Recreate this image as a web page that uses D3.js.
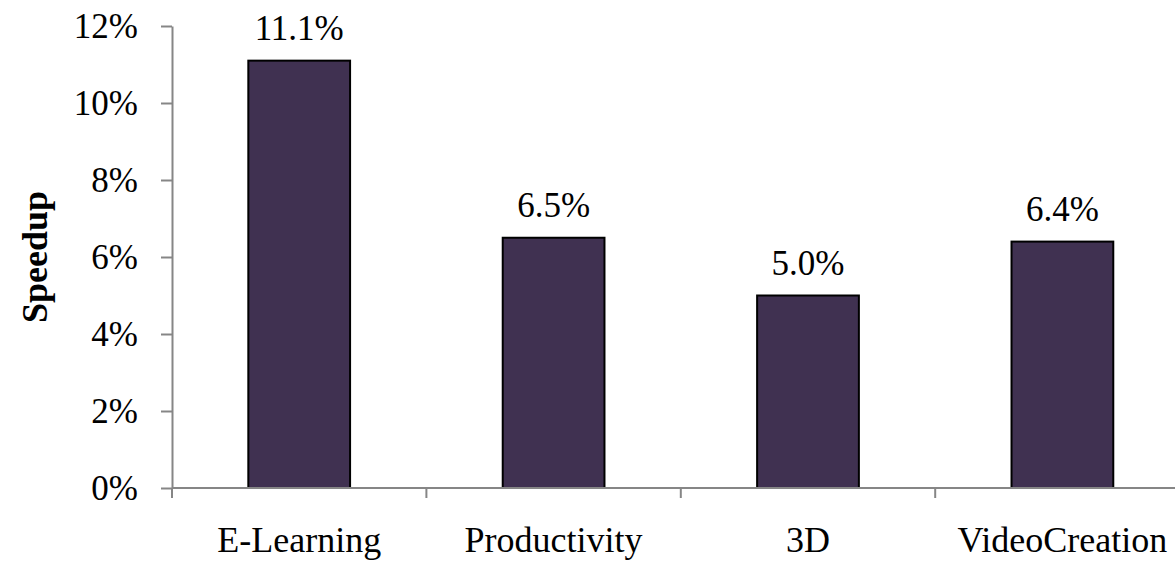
<!DOCTYPE html>
<html>
<head>
<meta charset="utf-8">
<script src="https://cdn.jsdelivr.net/npm/d3@7"></script>
<style>
  html, body { margin: 0; padding: 0; background: #fff; }
  svg { display: block; }
  text { font-family: "Liberation Serif", "Times New Roman", Times, serif; fill: #000; }
</style>
</head>
<body>
<svg id="chart" width="1175" height="561"></svg>
<script>
// Speedup per workload category
const categories = ["E-Learning", "Productivity", "3D", "VideoCreation"];
const speedup = [11.1, 6.5, 5.0, 6.4];
const yTicks = [0, 2, 4, 6, 8, 10, 12];

const margin = { left: 172, top: 26, bottom: 488 };
const step = 254.4;
const serif = "'Liberation Serif', 'Times New Roman', Times, serif";

const svg = d3.select("#chart");

const x = d3.scaleBand()
  .domain(categories)
  .range([margin.left, margin.left + step * categories.length])
  .padding(0);

const y = d3.scaleLinear()
  .domain([0, 12])
  .range([margin.bottom, margin.top]);

const barW = x.bandwidth() * 0.4;
const axisColor = "#868686";

// Y axis
const yAxis = svg.append("g")
  .attr("transform", `translate(${margin.left},0)`)
  .call(d3.axisLeft(y).tickValues(yTicks).tickFormat(d => d + "%").tickSize(11).tickSizeOuter(0).tickPadding(23));
yAxis.attr("font-family", serif);
yAxis.select(".domain").attr("stroke", axisColor).attr("stroke-width", 2);
yAxis.selectAll(".tick line").attr("stroke", axisColor).attr("stroke-width", 2);
yAxis.selectAll(".tick text")
  .style("font-family", serif)
  .style("font-size", "35px")
  .attr("fill", "#000")
  .attr("dy", "0.34em");

// Bars
svg.append("g").selectAll("rect")
  .data(categories)
  .join("rect")
  .attr("x", (d) => x(d) + x.bandwidth() / 2 - barW / 2)
  .attr("y", (d, i) => y(speedup[i]))
  .attr("width", barW)
  .attr("height", (d, i) => y(0) - y(speedup[i]))
  .attr("fill", "#403151")
  .attr("stroke", "#000")
  .attr("stroke-width", 2);

// X axis: line, boundary ticks, centred labels
const xg = svg.append("g");
xg.append("line")
  .attr("x1", margin.left).attr("x2", x.range()[1])
  .attr("y1", y(0)).attr("y2", y(0))
  .attr("stroke", axisColor).attr("stroke-width", 2);
const edges = categories.map(c => x(c)).concat([x.range()[1]]);
xg.selectAll("line.edge")
  .data(edges)
  .join("line")
  .attr("class", "edge")
  .attr("x1", d => d).attr("x2", d => d)
  .attr("y1", y(0)).attr("y2", y(0) + 10)
  .attr("stroke", axisColor).attr("stroke-width", 2);
xg.selectAll("text")
  .data(categories)
  .join("text")
  .attr("x", d => x(d) + x.bandwidth() / 2)
  .attr("y", 552)
  .attr("text-anchor", "middle")
  .style("font-family", serif)
  .style("font-size", "36px")
  .text(d => d);

// Value labels
svg.append("g").selectAll("text")
  .data(categories)
  .join("text")
  .attr("x", d => x(d) + x.bandwidth() / 2)
  .attr("y", (d, i) => y(speedup[i]) - 21)
  .attr("text-anchor", "middle")
  .style("font-family", serif)
  .style("font-size", "35px")
  .text((d, i) => speedup[i].toFixed(1) + "%");

// Y axis title
svg.append("text")
  .attr("transform", `translate(47,257) rotate(-90)`)
  .attr("text-anchor", "middle")
  .style("font-family", serif)
  .style("font-size", "36px")
  .style("font-weight", "bold")
  .text("Speedup");
</script>
</body>
</html>
